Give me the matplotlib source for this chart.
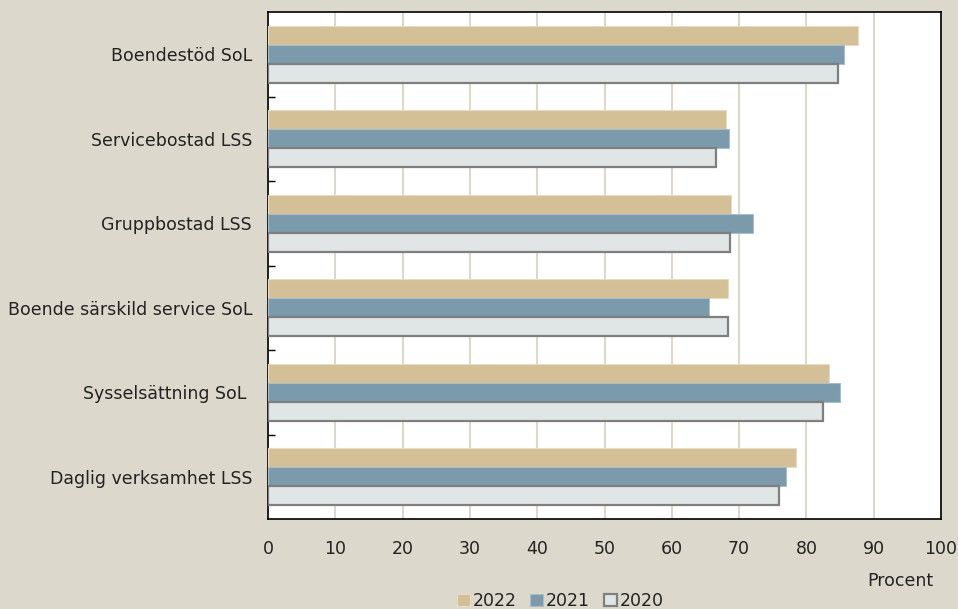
import matplotlib
matplotlib.use("Agg")
import matplotlib.pyplot as plt
import numpy as np

categories = ["Boendestöd SoL", "Servicebostad LSS", "Gruppbostad LSS",
              "Boende särskild service SoL", "Sysselsättning SoL ",
              "Daglig verksamhet LSS"]
years = ["2022", "2021", "2020"]
v2022 = [87.6, 68.1, 68.8, 68.3, 83.4, 78.4]
v2021 = [85.6, 68.5, 72.0, 65.6, 85.0, 76.9]
v2020 = [84.7, 66.5, 68.6, 68.4, 82.5, 75.9]
xticks = [0, 10, 20, 30, 40, 50, 60, 70, 80, 90, 100]

bg = "#dcd9cc"
colors = ["#d4c097", "#7b9aac", "#e0e6e5"]
edges = ["#e6dcc4", "#a9bdc9", "#7f7f7f"]
lws = [0.8, 0.8, 1.6]
txt = "#222222"
fs = 12.5

plt.rcParams["font.family"] = ["DejaVu Sans"]

fig = plt.figure(figsize=(9.58, 6.09), dpi=100, facecolor=bg)
ax = fig.add_axes([268 / 958, 1 - 519 / 609, (941 - 268) / 958, (519 - 12) / 609])
ax.set_facecolor("white")

n = len(categories)
y = np.arange(n)
h = 0.225
series = [v2022, v2021, v2020]
for i, (vals, lab) in enumerate(zip(series, years)):
    ax.barh(y + (i - 1) * h, vals, height=h, color=colors[i],
            edgecolor=edges[i], linewidth=lws[i], label=lab, zorder=3)

ax.set_xlim(0, 100)
ax.set_ylim(n - 0.5, -0.5)
ax.set_xticks(xticks)
ax.set_xticklabels([str(t) for t in xticks], fontsize=fs, color=txt)
ax.tick_params(axis="x", length=0, pad=15)
ax.set_yticks(y)
ax.set_yticklabels(categories, fontsize=fs, color=txt)
ax.tick_params(axis="y", which="major", length=0, pad=11.5)
ax.set_yticks(np.arange(0.5, n - 0.5, 1.0), minor=True)
ax.tick_params(axis="y", which="minor", length=5, direction="in", width=1, color="black")

ax.grid(axis="x", color="#dcd8cc", linewidth=1.5, zorder=0)
for s in ax.spines.values():
    s.set_color("black")
    s.set_linewidth(1.2)

fig.text(900 / 958, 1 - 581 / 609, "Procent", ha="center", va="center",
         fontsize=fs, color=txt)

leg = fig.legend(loc="center", bbox_to_anchor=(560 / 958, 1 - 601 / 609),
                 ncol=3, frameon=False, fontsize=fs, handlelength=0.75,
                 handleheight=0.75, handletextpad=0.15, columnspacing=0.8,
                 borderaxespad=0)
for t in leg.get_texts():
    t.set_color(txt)

fig.savefig("out.png", dpi=100, facecolor=bg)
